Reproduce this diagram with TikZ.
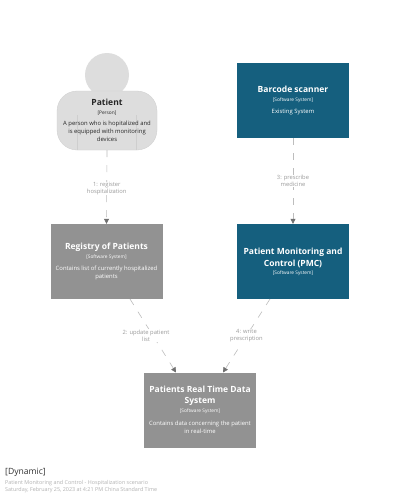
\documentclass[tikz,border=0pt]{standalone}
\usepackage{fontspec}
\setmainfont{Open Sans}
\usetikzlibrary{arrows.meta}
\definecolor{teal1}{HTML}{155F7E}
\definecolor{grey1}{HTML}{929292}
\definecolor{pers}{HTML}{DDDDDD}
\definecolor{persl}{HTML}{CECECE}
\definecolor{connc}{HTML}{BDBDBD}
\definecolor{tipc}{HTML}{707070}
\definecolor{lab}{HTML}{9A9A9A}
\newcommand{\fixedleadA}{\fontsize{5.9}{8}\selectfont\setlength{\lineskiplimit}{-10pt}}
\newcommand{\fixedleadB}{\fontsize{5.8}{7}\selectfont\setlength{\lineskiplimit}{-10pt}}
\tikzset{
  x=1pt,y=-1pt,
  tightfont/.style={font=\fixedleadA},
  sysbox/.style={rectangle,minimum width=112pt,minimum height=75pt,inner sep=0pt,text=white,align=center,tightfont},
  tealbox/.style={sysbox,fill=teal1},
  greybox/.style={sysbox,fill=grey1},
  connline/.style={draw=connc,line width=.6pt,dash pattern=on 7pt off 8pt,-{Triangle[length=5pt,width=5pt,color=tipc]}},
  connlab/.style={text=lab,font=\fixedleadB,align=center,fill=white,inner sep=.6pt},
  legendtxt/.style={anchor=west,inner sep=0pt,text=black!30,font=\fontsize{5.4}{6.5}\selectfont},
}
\newcommand{\ttl}[1]{{\fontsize{8.5}{8}\selectfont\bfseries #1}}
\newcommand{\typ}[1]{{\fontsize{4.8}{8}\selectfont #1}}
\begin{document}
\begin{tikzpicture}
\useasboundingbox (0,0) rectangle (400,499);
\fill[white] (0,0) rectangle (400,499);
% patient
\node[circle,fill=pers,minimum size=44pt,inner sep=0pt] (head) at (107,75) {};
\node[rectangle,rounded corners=20pt,fill=pers,draw=persl,line width=.3pt,minimum width=100pt,minimum height=59pt,inner sep=0pt] (patient) at (107,120.5) {};
\draw[persl,line width=.4pt] (77.5,115) -- (77.5,150);
\draw[persl,line width=.4pt] (136.5,115) -- (136.5,150);
\node[align=center,inner sep=0pt,text=black!85,tightfont] (ptext) at (107,120) {\ttl{Patient}\\[1pt]\typ{[Person]}\\[3pt]A person who is hopitalized and\\is equipped with monitoring\\devices};
% systems
\node[tealbox] (barcode) at (293,100.5) {\ttl{Barcode scanner}\\[1pt]\typ{[Software System]}\\[4pt]Existing System};
\node[tealbox] (pmc) at (293,261.5) {\ttl{Patient Monitoring and}\\[4pt]\ttl{Control (PMC)}\\[0pt]\typ{[Software System]}};
\node[greybox] (registry) at (106.5,261.5) {\ttl{Registry of Patients}\\[1pt]\typ{[Software System]}\\[4pt]Contains list of currently hospitalized\\patients};
\node[greybox] (rt) at (200,410) {\ttl{Patients Real Time Data}\\[3pt]\ttl{System}\\[1pt]\typ{[Software System]}\\[5pt]Contains data concerning the patient\\in real-time};
% connector ends
\coordinate (regout) at (130,299);
\coordinate (pmcout) at (270,299);
\coordinate (rtinl) at (176,372.5);
\coordinate (rtinr) at (223,372.5);
% connectors
\draw[connline] (patient.south) -- node[connlab,pos=.5,yshift=-1.5pt] {1: register\\hospitalization} (registry.north);
\draw[connline] (barcode.south) -- node[connlab,pos=.5] {3: prescribe\\medicine} (pmc.north);
\draw[connline] (regout) -- node[connlab,pos=.5,xshift=-7pt] {2: update patient\\list} (rtinl);
\draw[connline] (pmcout) -- node[connlab,pos=.5] {4: write\\prescription} (rtinr);
% legend
\node[anchor=west,inner sep=0pt,text=black!80,font=\fontsize{8.6}{10}\selectfont] (dyn) at (5,472) {[Dynamic]};
\node[legendtxt] (l1) at (5,483) {Patient Monitoring and Control - Hospitalization scenario};
\node[legendtxt] (l2) at (5,490) {Saturday, February 25, 2023 at 4:21 PM China Standard Time};
\end{tikzpicture}
\end{document}
